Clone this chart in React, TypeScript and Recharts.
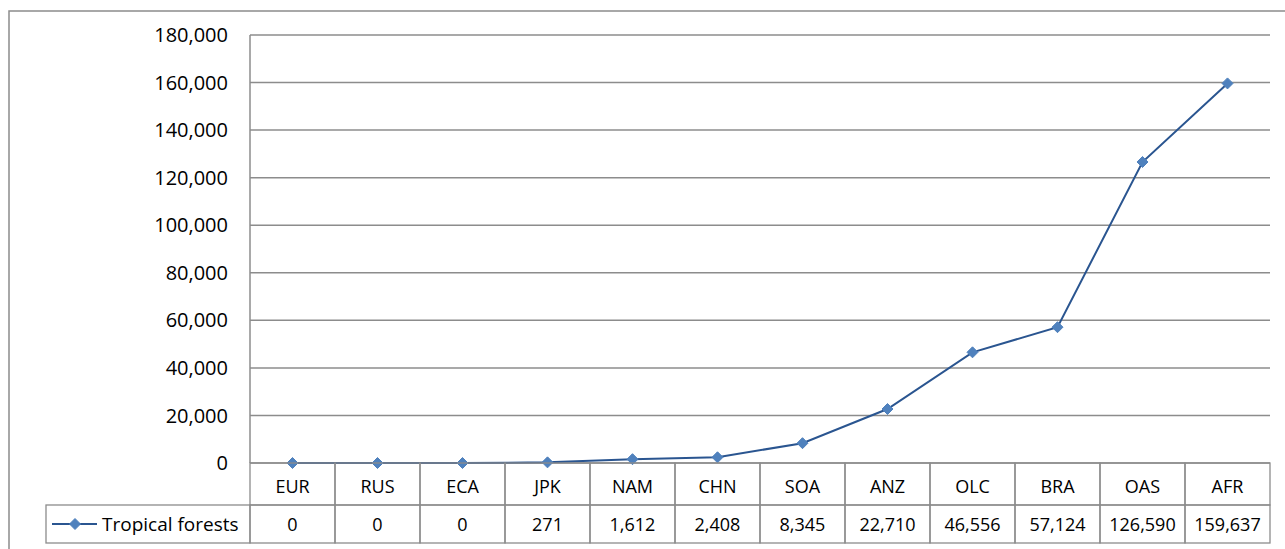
import { LineChart, Line, XAxis, YAxis, CartesianGrid } from "recharts";

const categories = ["EUR", "RUS", "ECA", "JPK", "NAM", "CHN", "SOA", "ANZ", "OLC", "BRA", "OAS", "AFR"];
const tropicalForests = [0, 0, 0, 271, 1612, 2408, 8345, 22710, 46556, 57124, 126590, 159637];
const yTicks = [0, 20000, 40000, 60000, 80000, 100000, 120000, 140000, 160000, 180000];
const seriesName = "Tropical forests";

const data = categories.map((name, i) => ({ name, value: tropicalForests[i] }));

const FONT = "'Open Sans', sans-serif";
const GRID = "#8c8c8c";
const LINE = "#2a5590";
const MARKER = "#4f81bd";
const COL_W = 85; // table column width
const ROW1_H = 42;
const ROW2_H = 38;
const LEGEND_W = 204;

const fmt = (v: number) => v.toLocaleString("en-US");

const Diamond = (props: any) => {
    const { cx, cy } = props;
    if (cx == null || cy == null) return null;
    const r = 5.5;
    return (
        <path
            d={`M${cx},${cy - r}L${cx + r},${cy}L${cx},${cy + r}L${cx - r},${cy}Z`}
            fill={MARKER}
            stroke={MARKER}
            strokeWidth={1}
        />
    );
};

// Each x tick draws its column of the data table
const TableTick = (props: any) => {
    const { x, y, payload, index } = props;
    const left = x - COL_W / 2;
    return (
        <g fontFamily={FONT} fontSize={18} fill="#000">
            <rect x={left} y={y} width={COL_W} height={ROW1_H} fill="none" stroke={GRID} strokeWidth={1.3} />
            <rect x={left} y={y + ROW1_H} width={COL_W} height={ROW2_H} fill="none" stroke={GRID} strokeWidth={1.3} />
            <text x={x} y={y + ROW1_H / 2 + 2} textAnchor="middle" dominantBaseline="central" fill="#000">
                {payload.value}
            </text>
            <text x={x} y={y + ROW1_H + ROW2_H / 2} textAnchor="middle" dominantBaseline="central" fill="#000">
                {fmt(tropicalForests[index])}
            </text>
            {index === 0 && (
                <g>
                    <rect x={left - LEGEND_W} y={y + ROW1_H} width={LEGEND_W} height={ROW2_H} fill="none" stroke={GRID} strokeWidth={1.3} />
                    <line x1={left - LEGEND_W + 6} x2={left - LEGEND_W + 51} y1={y + ROW1_H + ROW2_H / 2} y2={y + ROW1_H + ROW2_H / 2} stroke={LINE} strokeWidth={2} />
                    <Diamond cx={left - LEGEND_W + 29} cy={y + ROW1_H + ROW2_H / 2} />
                    <text x={left - LEGEND_W + 56} y={y + ROW1_H + ROW2_H / 2} fontSize={19} dominantBaseline="central" fill="#000">
                        {seriesName}
                    </text>
                </g>
            )}
        </g>
    );
};

export default function App() {
    return (
        <div style={{ position: "absolute", left: 0, top: 0, width: 1285, height: 549, background: "#fff" }}>
            <svg width={1285} height={549} style={{ position: "absolute", left: 0, top: 0 }}>
                <rect x={9} y={11} width={1300} height={560} fill="none" stroke={GRID} strokeWidth={1.5} />
            </svg>
            <div style={{ position: "absolute", left: 0, top: 0 }}>
                <LineChart width={1285} height={549} data={data} margin={{ top: 35, right: 15, bottom: 0, left: 190 }}>
                    <CartesianGrid vertical={false} stroke={GRID} strokeWidth={1.5} />
                    <XAxis
                        dataKey="name"
                        scale="band"
                        axisLine={false}
                        tickLine={false}
                        tickSize={0}
                        tickMargin={0}
                        height={86}
                        interval={0}
                        tick={<TableTick />}
                    />
                    <YAxis
                        domain={[0, 180000]}
                        ticks={yTicks}
                        width={60}
                        axisLine={{ stroke: GRID, strokeWidth: 1.5 }}
                        tickLine={false}
                        tickSize={0}
                        tickMargin={22}
                        tickFormatter={fmt}
                        tick={{ fontFamily: FONT, fontSize: 20, fill: "#000" }}
                        interval={0}
                    />
                    <Line
                        type="linear"
                        dataKey="value"
                        name={seriesName}
                        stroke={LINE}
                        strokeWidth={2}
                        dot={<Diamond />}
                        activeDot={false}
                        isAnimationActive={false}
                    />
                </LineChart>
            </div>
        </div>
    );
}
